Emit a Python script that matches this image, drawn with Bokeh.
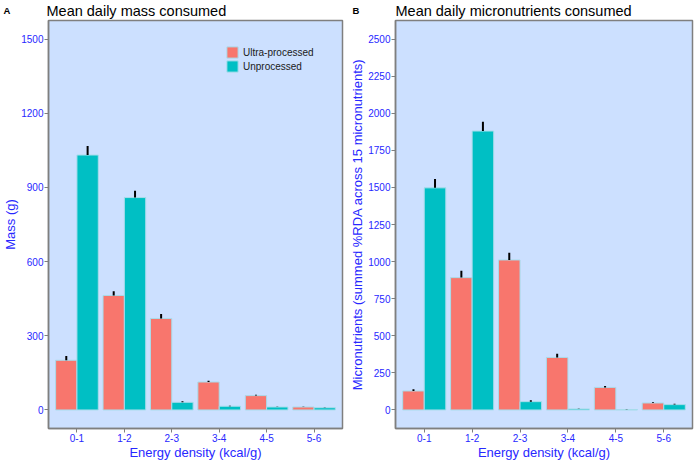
from bokeh.plotting import figure
from bokeh.models import (ColumnDataSource, FixedTicker, Label, Legend, LegendItem, Range1d)
from bokeh.layouts import row, column
from bokeh.transform import dodge
from bokeh.embed import file_html
from bokeh.resources import INLINE

categories = ["0-1", "1-2", "2-3", "3-4", "4-5", "5-6"]
series_names = ["Ultra-processed", "Unprocessed"]

mass_ultra = [201, 463, 370, 113, 58, 12]
mass_ultra_se = [17, 17, 18, 5, 3, 1]
mass_unproc = [1031, 859, 31, 15, 12, 9]
mass_unproc_se = [36, 27, 4, 2, 1, 1]

micro_ultra = [128, 892, 1011, 354, 152, 47]
micro_ultra_se = [12, 47, 49, 24, 9, 5]
micro_unproc = [1497, 1880, 56, 7, 2, 36]
micro_unproc_se = [60, 63, 9, 1, 1, 6]

mass_ticks = [0, 300, 600, 900, 1200, 1500]
micro_ticks = [0, 250, 500, 750, 1000, 1250, 1500, 1750, 2000, 2250, 2500]

RED = "#F8766D"
TEAL = "#00BFC4"
BG = "#CCE0FF"
GREY = "#7F7F7F"
BLUE = "#2828FF"
FONT = "Liberation Sans"
TOP_H = 19


def panel(ylabel, ymax, ticks, ultra, ultra_se, unproc, unproc_se, left, right, legend=False):
    xs = list(range(1, len(categories) + 1))
    src = ColumnDataSource(dict(
        x=xs,
        ultra=ultra,
        ultra_hi=[v + s for v, s in zip(ultra, ultra_se)],
        unproc=unproc,
        unproc_hi=[v + s for v, s in zip(unproc, unproc_se)],
    ))
    pad = ymax * 0.05
    p = figure(width=347, height=462 - TOP_H, output_backend="svg", toolbar_location=None,
               x_range=Range1d(0.4, len(categories) + 0.6), y_range=Range1d(-pad, ymax + pad),
               min_border_left=left, min_border_right=right, min_border_top=1,
               min_border_bottom=31)
    p.background_fill_color = BG
    p.border_fill_color = "white"
    p.outline_line_color = GREY
    p.outline_line_width = 1.5
    p.xgrid.visible = False
    p.ygrid.visible = False

    line_c = "#A8DCEB"
    xl = dodge("x", -0.225, range=p.x_range)
    xr = dodge("x", 0.225, range=p.x_range)
    r1 = p.vbar(x=xl, top="ultra", bottom=0, width=0.45,
                source=src, fill_color=RED, line_color=line_c, line_width=1)
    r2 = p.vbar(x=xr, top="unproc", bottom=0, width=0.45,
                source=src, fill_color=TEAL, line_color=line_c, line_width=1)
    p.segment(x0=xl, x1=xl, y0="ultra", y1="ultra_hi", source=src,
              line_color="black", line_width=2)
    p.segment(x0=xr, x1=xr, y0="unproc", y1="unproc_hi", source=src,
              line_color="black", line_width=2)

    for ax in (p.xaxis[0], p.yaxis[0]):
        ax.axis_line_color = GREY
        ax.axis_line_width = 1.5
        ax.major_tick_line_color = GREY
        ax.major_tick_line_width = 1
        ax.major_tick_out = 4
        ax.major_tick_in = 0
        ax.minor_tick_line_color = None
        ax.major_label_text_color = BLUE
        ax.major_label_text_font = FONT
        ax.major_label_text_font_size = "10px"
        ax.axis_label_text_color = BLUE
        ax.axis_label_text_font = FONT
        ax.axis_label_text_font_size = "13px"
        ax.axis_label_text_font_style = "normal"
        ax.major_label_standoff = 1
        ax.axis_label_standoff = 0

    p.xaxis.ticker = FixedTicker(ticks=xs)
    p.xaxis.major_label_overrides = {i: c for i, c in zip(xs, categories)}
    p.xaxis.axis_label = "Energy density (kcal/g)"
    p.yaxis.ticker = FixedTicker(ticks=ticks)
    p.yaxis.axis_label = ylabel

    if legend:
        lg = Legend(items=[LegendItem(label=series_names[0], renderers=[r1]),
                           LegendItem(label=series_names[1], renderers=[r2])],
                    location=(177, 355), glyph_width=14, glyph_height=14, label_height=14,
                    spacing=0, padding=0, margin=0, label_standoff=4,
                    background_fill_alpha=0, border_line_alpha=0,
                    label_text_font=FONT, label_text_font_size="10px",
                    label_text_color="#1A1A1A")
        p.add_layout(lg)
    return p


pa = panel("Mass (g)", 1500, mass_ticks,
           mass_ultra, mass_ultra_se, mass_unproc, mass_unproc_se, 46, 5, legend=True)
pb = panel("Micronutrients (summed %RDA across 15 micronutrients)", 2500, micro_ticks,
           micro_ultra, micro_ultra_se, micro_unproc, micro_unproc_se, 48, 2)

# heading strip holding the panel letters and titles
head = figure(width=694, height=TOP_H, output_backend="svg", toolbar_location=None,
              x_range=Range1d(0, 1), y_range=Range1d(0, 1), min_border=0,
              x_axis_type=None, y_axis_type=None)
head.outline_line_color = None
head.xgrid.visible = False
head.ygrid.visible = False
for x, txt, size, style in [(3, "A", "9.5px", "bold"), (46, "Mean daily mass consumed", "14.5px", "normal"),
                            (352, "B", "9.5px", "bold"),
                            (395, "Mean daily micronutrients consumed", "14.5px", "normal")]:
    head.add_layout(Label(x=x, y=TOP_H - 10, x_units="screen", y_units="screen", text=txt,
                          text_font=FONT, text_font_size=size, text_font_style=style,
                          text_color="black", text_baseline="middle", text_align="left"))

lay = column(head, row(pa, pb, spacing=0), spacing=0)
open("out.html", "w").write(file_html(lay, INLINE))
